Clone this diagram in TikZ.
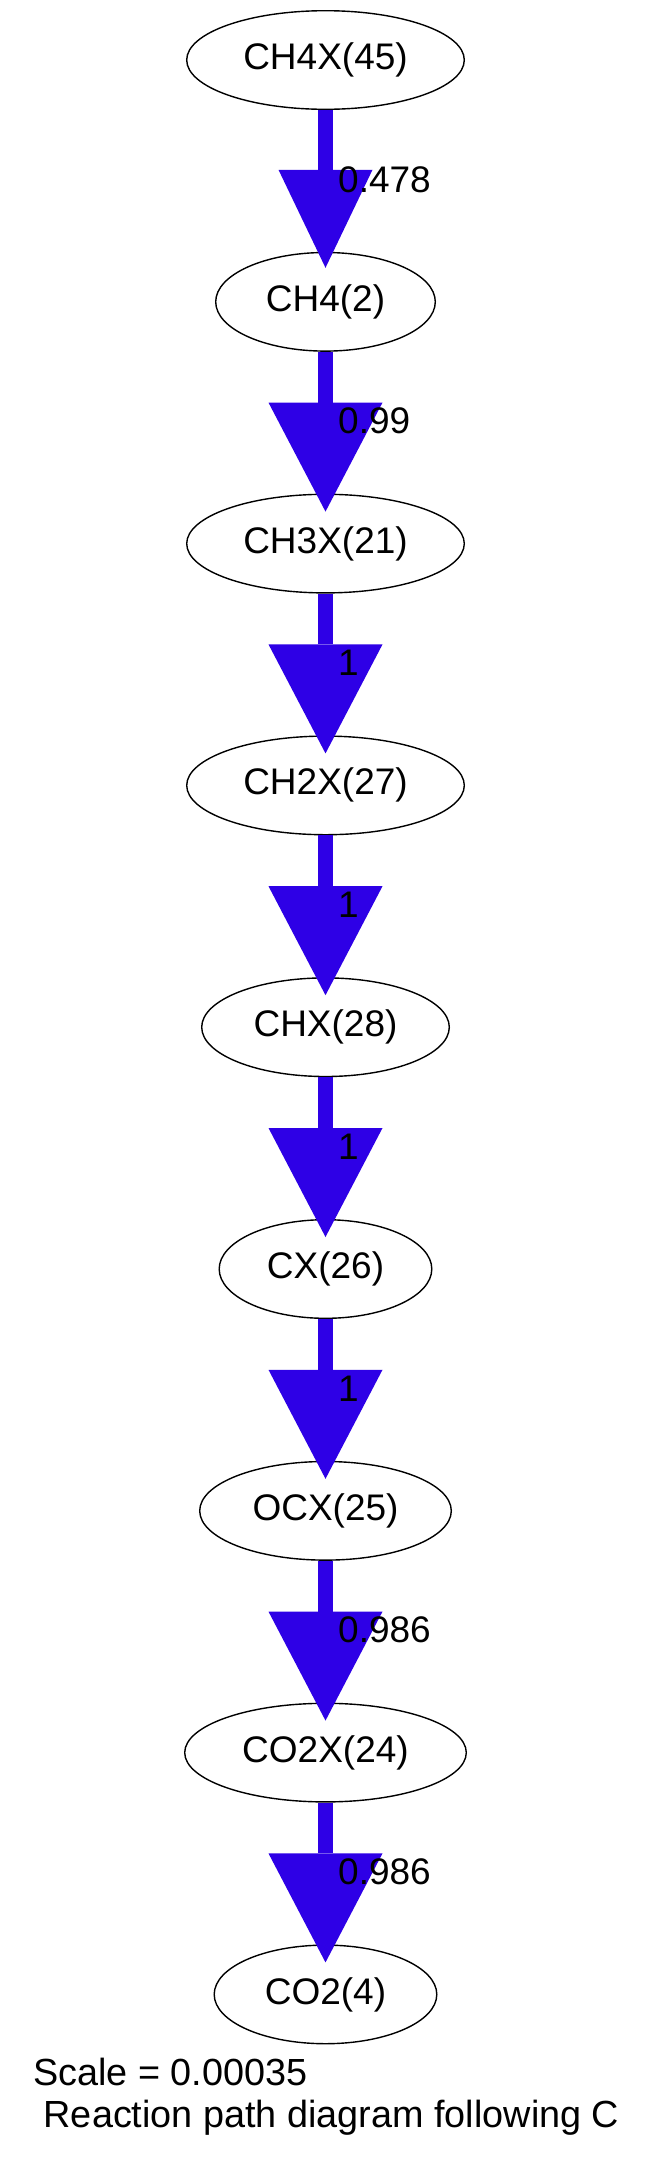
\documentclass[tikz,border=0pt]{standalone}
\usepackage{fontspec}
\setmainfont{Liberation Sans}
\usetikzlibrary{shapes.geometric,arrows.meta}
\definecolor{pathblue}{RGB}{46,0,230}
\begin{document}
\begin{tikzpicture}[x=1pt,y=-1pt,
  species/.style={ellipse,draw=black,line width=1.4pt,inner sep=0pt,
    minimum height=98.6pt,font=\fontsize{37}{44}\selectfont},
  flux/.style={draw=pathblue,line width=15pt,
    -{Triangle[length=109pt,width=114pt,line width=0pt,fill=pathblue]},
    shorten >=-18pt},
  fluxsmall/.style={draw=pathblue,line width=14.5pt,
    -{Triangle[length=98pt,width=94pt,line width=0pt,fill=pathblue]},
    shorten >=-16pt},
  lab/.style={anchor=base west,inner sep=0pt,font=\fontsize{37}{44}\selectfont},
  foot/.style={anchor=base west,inner sep=0pt,font=\fontsize{37.8}{44}\selectfont}]
\useasboundingbox (0,0) rectangle (653,2161);
\fill[white] (0,0) rectangle (653,2161);
\node[species,minimum width=277.6pt] (n0) at (325.5,60) {CH4X(45)};
\node[species,minimum width=219.6pt] (n1) at (325.5,301.8) {CH4(2)};
\node[species,minimum width=277.6pt] (n2) at (325.5,543.6) {CH3X(21)};
\node[species,minimum width=277.6pt] (n3) at (325.5,785.4) {CH2X(27)};
\node[species,minimum width=247.6pt] (n4) at (325.5,1027.2) {CHX(28)};
\node[species,minimum width=212.6pt] (n5) at (325.5,1269) {CX(26)};
\node[species,minimum width=251.6pt] (n6) at (325.5,1510.8) {OCX(25)};
\node[species,minimum width=281.6pt] (n7) at (325.5,1752.6) {CO2X(24)};
\node[species,minimum width=222.6pt] (n8) at (325.5,1994.4) {CO2(4)};
\draw[fluxsmall] (n0) -- (n1);
\draw[flux] (n1) -- (n2);
\draw[flux] (n2) -- (n3);
\draw[flux] (n3) -- (n4);
\draw[flux] (n4) -- (n5);
\draw[flux] (n5) -- (n6);
\draw[flux] (n6) -- (n7);
\draw[flux] (n7) -- (n8);
\node[lab] (l0) at (338,192) {0.478};
\node[lab] (l1) at (338,433.8) {0.99};
\node[lab] (l2) at (338,675.6) {1};
\node[lab] (l3) at (338,917.4) {1};
\node[lab] (l4) at (338,1159.2) {1};
\node[lab] (l5) at (338,1401) {1};
\node[lab] (l6) at (338,1642.8) {0.986};
\node[lab] (l7) at (338,1884.6) {0.986};
\node[foot] (s1) at (33,2085) {Scale = 0.00035};
\node[foot] (s2) at (33,2127) {\ Reaction path diagram following C};
\end{tikzpicture}
\end{document}
